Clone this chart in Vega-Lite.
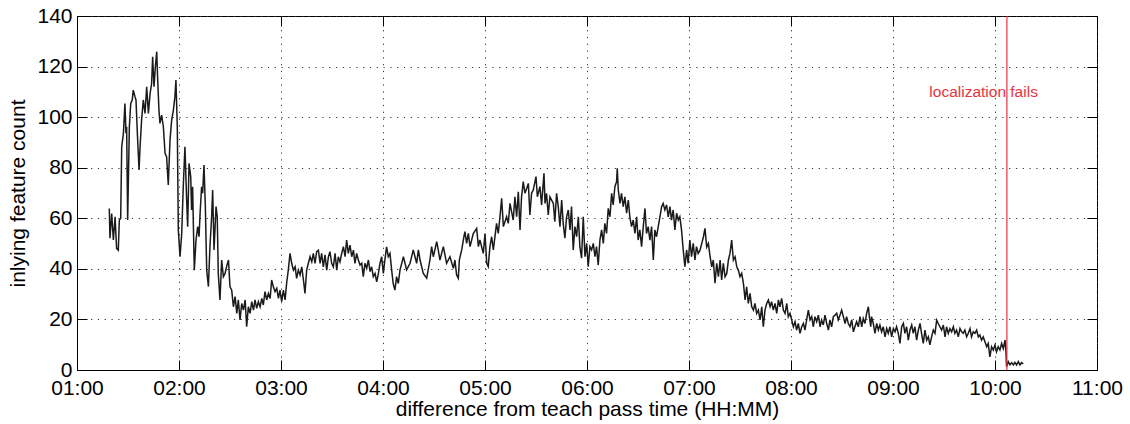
{
  "$schema": "https://vega.github.io/schema/vega-lite/v6.json",
  "width": 1020,
  "height": 354,
  "autosize": {"type": "none"},
  "padding": {"left": 77, "top": 16, "right": 33, "bottom": 54},
  "background": "white",
  "config": {"view": {"stroke": "black", "strokeWidth": 1}, "font": "Liberation Sans"},
  "resolve": {"axis": {"x": "independent", "y": "independent"}},
  "layer": [
    {
      "data": {"values": [
        {"t":79.0,"v":63.9},{"t":79.4,"v":52.1},{"t":80.4,"v":61.9},{"t":81.4,"v":51.4},{"t":82.4,"v":60.6},{"t":83.3,"v":48.1},{"t":84.3,"v":47.4},{"t":84.9,"v":59.3},{"t":85.7,"v":60.0},{"t":86.3,"v":88.3},{"t":87.3,"v":93.6},{"t":88.2,"v":105.4},{"t":88.8,"v":93.6},{"t":89.2,"v":96.2},{"t":89.8,"v":59.3},{"t":90.8,"v":96.2},{"t":91.6,"v":105.4},{"t":92.5,"v":106.8},{"t":93.1,"v":110.7},{"t":94.1,"v":108.1},{"t":94.7,"v":106.8},{"t":95.5,"v":93.6},{"t":96.5,"v":79.1},{"t":97.1,"v":88.3},{"t":98.0,"v":98.9},{"t":99.0,"v":106.8},{"t":100.0,"v":101.5},{"t":101.0,"v":112.0},{"t":102.0,"v":101.5},{"t":103.0,"v":109.4},{"t":103.9,"v":113.3},{"t":104.5,"v":123.9},{"t":105.3,"v":112.0},{"t":106.1,"v":119.9},{"t":106.9,"v":125.9},{"t":107.4,"v":116.0},{"t":108.2,"v":102.8},{"t":108.8,"v":97.5},{"t":109.8,"v":100.8},{"t":110.8,"v":96.2},{"t":111.8,"v":85.7},{"t":112.7,"v":84.4},{"t":113.7,"v":73.2},{"t":114.7,"v":90.9},{"t":115.7,"v":98.9},{"t":116.7,"v":102.8},{"t":117.6,"v":108.1},{"t":118.2,"v":114.7},{"t":119.0,"v":96.2},{"t":119.6,"v":55.4},{"t":120.6,"v":44.8},{"t":121.6,"v":54.0},{"t":122.5,"v":72.5},{"t":123.5,"v":88.3},{"t":124.5,"v":67.2},{"t":125.1,"v":56.7},{"t":125.9,"v":81.7},{"t":126.9,"v":76.4},{"t":127.4,"v":63.3},{"t":128.0,"v":72.5},{"t":129.0,"v":39.5},{"t":130.0,"v":51.4},{"t":131.0,"v":56.7},{"t":131.8,"v":52.7},{"t":132.4,"v":61.9},{"t":133.3,"v":72.5},{"t":133.9,"v":69.9},{"t":134.7,"v":81.1},{"t":135.5,"v":64.6},{"t":136.3,"v":39.5},{"t":137.3,"v":33.0},{"t":138.2,"v":48.8},{"t":139.2,"v":60.6},{"t":139.8,"v":71.2},{"t":140.6,"v":47.5},{"t":141.8,"v":64.6},{"t":142.5,"v":60.6},{"t":143.1,"v":38.2},{"t":144.1,"v":27.7},{"t":145.1,"v":43.5},{"t":146.1,"v":36.9},{"t":147.1,"v":38.2},{"t":148.0,"v":40.9},
        {"t":149.1,"v":43.5},{"t":150.0,"v":32.9},{"t":151.0,"v":31.6},{"t":152.0,"v":25.0},{"t":153.0,"v":29.0},{"t":154.0,"v":22.4},{"t":154.9,"v":27.7},{"t":155.9,"v":19.8},{"t":156.9,"v":26.3},{"t":157.9,"v":23.7},{"t":158.9,"v":27.7},{"t":159.8,"v":17.1},{"t":160.8,"v":25.0},{"t":161.8,"v":22.4},{"t":162.8,"v":27.0},{"t":163.8,"v":23.7},{"t":164.7,"v":27.7},{"t":165.7,"v":24.4},{"t":166.7,"v":27.0},{"t":167.7,"v":25.0},{"t":168.7,"v":28.3},{"t":169.6,"v":25.7},{"t":170.6,"v":31.0},{"t":171.6,"v":27.7},{"t":172.6,"v":30.3},{"t":173.6,"v":28.3},{"t":174.5,"v":35.6},{"t":175.5,"v":32.9},{"t":176.5,"v":31.0},{"t":177.5,"v":32.3},{"t":178.5,"v":28.3},{"t":179.4,"v":31.6},{"t":180.4,"v":27.0},{"t":181.4,"v":31.6},{"t":182.4,"v":27.7},{"t":183.4,"v":34.9},{"t":184.3,"v":39.5},{"t":185.3,"v":46.1},{"t":186.3,"v":42.2},{"t":187.3,"v":39.5},{"t":188.3,"v":40.8},{"t":189.2,"v":36.2},{"t":190.2,"v":39.5},{"t":191.2,"v":37.6},{"t":192.2,"v":40.8},{"t":193.2,"v":35.6},{"t":194.1,"v":30.3},{"t":195.1,"v":39.5},{"t":196.1,"v":42.2},{"t":197.1,"v":44.8},{"t":198.1,"v":42.8},{"t":199.0,"v":46.1},{"t":200.0,"v":42.2},{"t":201.0,"v":46.8},{"t":202.0,"v":47.4},{"t":203.0,"v":42.2},{"t":203.9,"v":46.1},{"t":204.9,"v":40.8},{"t":205.9,"v":45.5},{"t":206.9,"v":39.5},{"t":207.9,"v":44.8},{"t":208.8,"v":46.8},{"t":209.8,"v":42.2},{"t":210.8,"v":40.8},{"t":211.8,"v":46.1},{"t":212.8,"v":39.5},{"t":213.7,"v":44.8},{"t":214.7,"v":42.8},{"t":215.7,"v":46.1},{"t":216.7,"v":48.8},{"t":217.7,"v":44.8},{"t":218.6,"v":51.4},{"t":219.6,"v":46.1},{"t":220.6,"v":49.4},{"t":221.6,"v":44.8},{"t":222.6,"v":47.4},{"t":223.5,"v":42.2},{"t":224.5,"v":46.1},{"t":225.5,"v":43.5},{"t":226.5,"v":41.5},{"t":227.5,"v":42.2},{"t":228.4,"v":36.9},{"t":229.4,"v":42.2},{"t":230.4,"v":40.2},{"t":231.4,"v":43.5},{"t":232.4,"v":38.9},{"t":233.3,"v":40.8},{"t":234.3,"v":36.9},{"t":235.3,"v":38.2},{"t":236.3,"v":34.9},{"t":237.3,"v":38.2},
        {"t":238.2,"v":42.1},{"t":239.2,"v":44.8},{"t":240.2,"v":38.2},{"t":241.1,"v":43.5},{"t":242.1,"v":48.7},{"t":243.1,"v":44.8},{"t":244.1,"v":46.1},{"t":245.1,"v":39.5},{"t":246.0,"v":34.2},{"t":247.0,"v":31.6},{"t":248.0,"v":36.9},{"t":249.0,"v":34.2},{"t":250.0,"v":39.5},
        {"t":252.0,"v":44.8},{"t":253.9,"v":39.6},{"t":255.9,"v":42.2},{"t":257.8,"v":47.5},{"t":259.8,"v":42.2},{"t":260.8,"v":47.5},{"t":261.8,"v":43.5},{"t":263.7,"v":38.2},{"t":265.7,"v":36.3},{"t":267.6,"v":43.5},{"t":268.6,"v":48.8},{"t":269.6,"v":44.8},{"t":271.6,"v":50.8},{"t":272.5,"v":47.5},{"t":273.5,"v":43.5},{"t":275.5,"v":48.8},{"t":277.4,"v":42.2},{"t":279.4,"v":44.8},{"t":281.4,"v":40.2},{"t":282.3,"v":43.5},{"t":283.3,"v":37.6},{"t":284.3,"v":36.3},{"t":284.9,"v":43.5},{"t":286.3,"v":47.5},{"t":287.6,"v":52.7},{"t":288.2,"v":54.7},{"t":289.2,"v":50.1},{"t":290.2,"v":54.0},{"t":291.2,"v":48.8},{"t":293.1,"v":54.0},{"t":295.1,"v":56.0},{"t":296.1,"v":48.8},{"t":297.0,"v":51.4},{"t":299.0,"v":46.1},{"t":300.0,"v":54.0},{"t":301.0,"v":42.2},{"t":301.9,"v":40.9},{"t":302.9,"v":48.8},{"t":303.9,"v":52.7},{"t":304.9,"v":47.5},{"t":306.8,"v":58.0},{"t":307.8,"v":54.0},{"t":308.8,"v":60.6},{"t":309.8,"v":67.9},{"t":310.8,"v":56.7},{"t":312.7,"v":60.6},{"t":313.7,"v":58.0},{"t":314.7,"v":65.9},{"t":316.6,"v":59.3},{"t":317.6,"v":68.5},{"t":318.6,"v":60.6},{"t":319.6,"v":70.5},{"t":320.6,"v":55.4},{"t":321.5,"v":68.5},{"t":322.5,"v":74.5},{"t":323.5,"v":69.9},{"t":324.5,"v":71.8},{"t":325.5,"v":73.8},{"t":326.4,"v":61.3},{"t":327.4,"v":69.9},{"t":328.4,"v":71.2},{"t":330.0,"v":76.5},{"t":330.8,"v":68.5},{"t":332.3,"v":72.5},{"t":333.3,"v":65.3},{"t":334.7,"v":77.8},{"t":335.3,"v":65.9},{"t":336.2,"v":69.9},{"t":337.2,"v":61.3},{"t":338.2,"v":68.5},{"t":340.2,"v":65.9},{"t":341.1,"v":58.7},{"t":342.1,"v":69.9},{"t":343.1,"v":64.6},{"t":344.1,"v":56.7},{"t":345.1,"v":67.2},{"t":346.0,"v":58.0},{"t":347.0,"v":52.1},{"t":348.0,"v":60.6},{"t":349.0,"v":63.3},{"t":350.0,"v":55.4},{"t":350.9,"v":64.6},{"t":351.9,"v":47.5},{"t":352.9,"v":56.7},{"t":353.9,"v":52.7},{"t":354.9,"v":60.6},{"t":355.8,"v":48.8},{"t":356.8,"v":44.2},{"t":357.8,"v":60.6},{"t":358.8,"v":44.8},{"t":359.8,"v":50.1},{"t":360.7,"v":40.9},{"t":361.7,"v":48.8},{"t":362.7,"v":47.5},{"t":363.7,"v":50.1},{"t":364.7,"v":44.8},{"t":365.6,"v":48.8},{"t":366.6,"v":41.5},{"t":367.6,"v":51.4},{"t":368.6,"v":55.4},{"t":369.6,"v":50.1},{"t":370.5,"v":58.0},{"t":371.5,"v":54.0},{"t":372.5,"v":63.9},{"t":373.5,"v":60.6},{"t":374.5,"v":69.9},{"t":375.4,"v":65.3},{"t":376.4,"v":72.5},{"t":377.4,"v":74.5},{"t":377.8,"v":79.8},{"t":378.4,"v":71.2},{"t":379.4,"v":65.9},{"t":380.3,"v":69.9},{"t":381.3,"v":64.6},{"t":382.3,"v":68.5},{"t":383.3,"v":62.0},{"t":384.3,"v":67.2},{"t":385.2,"v":60.6},{"t":386.2,"v":56.7},{"t":387.2,"v":59.3},{"t":388.2,"v":54.0},{"t":389.2,"v":60.6},{"t":390.1,"v":51.4},{"t":391.1,"v":55.4},{"t":392.1,"v":48.8},{"t":393.1,"v":56.7},{"t":394.1,"v":63.9},{"t":395.0,"v":54.0},{"t":396.0,"v":56.7},{"t":397.0,"v":51.4},{"t":398.0,"v":56.7},{"t":399.0,"v":43.5},{"t":399.9,"v":55.4},{"t":400.9,"v":52.7},{"t":401.9,"v":56.7},{"t":402.9,"v":60.6},{"t":403.9,"v":64.6},{"t":404.8,"v":65.9},{"t":405.8,"v":63.3},{"t":406.8,"v":65.3},{"t":407.8,"v":60.6},{"t":408.8,"v":64.6},{"t":409.7,"v":59.3},{"t":410.7,"v":63.3},{"t":411.7,"v":55.4},{"t":412.7,"v":62.0},{"t":413.7,"v":59.3},{"t":414.6,"v":60.6},{"t":415.6,"v":55.4},{"t":416.6,"v":47.5},{"t":417.6,"v":40.9},{"t":418.6,"v":47.5},{"t":419.5,"v":42.2},{"t":420.5,"v":51.4},{"t":421.5,"v":44.8},{"t":422.5,"v":50.1},{"t":423.5,"v":43.5},{"t":424.4,"v":48.8},{"t":425.4,"v":46.1},
        {"t":426.5,"v":47.4},{"t":427.5,"v":50.1},{"t":428.5,"v":52.7},{"t":429.4,"v":56.0},{"t":430.4,"v":48.7},{"t":431.4,"v":50.1},{"t":432.4,"v":44.8},{"t":433.4,"v":40.8},{"t":434.3,"v":43.5},{"t":435.3,"v":34.3},{"t":436.3,"v":42.2},{"t":437.3,"v":36.9},{"t":438.3,"v":43.5},{"t":439.2,"v":35.6},{"t":440.2,"v":42.2},{"t":441.2,"v":36.9},{"t":442.2,"v":38.2},{"t":443.2,"v":43.5},{"t":444.1,"v":46.1},{"t":445.1,"v":51.4},{"t":446.1,"v":43.5},{"t":447.1,"v":44.8},{"t":448.1,"v":40.8},{"t":449.0,"v":39.5},{"t":450.0,"v":36.9},{"t":451.0,"v":38.2},{"t":452.0,"v":34.3},{"t":453.0,"v":27.7},{"t":453.9,"v":32.9},{"t":454.9,"v":26.3},{"t":455.9,"v":30.3},{"t":456.9,"v":25.0},{"t":457.9,"v":23.7},{"t":458.8,"v":26.3},{"t":459.8,"v":22.4},{"t":460.8,"v":23.7},{"t":461.8,"v":19.8},{"t":462.8,"v":25.0},{"t":463.7,"v":17.1},{"t":464.7,"v":23.7},{"t":465.7,"v":26.3},{"t":466.7,"v":27.7},{"t":467.7,"v":25.0},{"t":468.6,"v":27.0},{"t":469.6,"v":23.7},{"t":470.6,"v":26.3},{"t":471.6,"v":22.4},{"t":472.6,"v":27.7},{"t":473.5,"v":25.0},{"t":474.5,"v":28.3},{"t":475.5,"v":23.7},{"t":476.5,"v":22.4},{"t":477.5,"v":26.3},{"t":478.4,"v":21.1},{"t":479.4,"v":22.4},{"t":480.4,"v":19.8},{"t":481.4,"v":17.1},{"t":482.4,"v":19.1},{"t":483.3,"v":15.8},{"t":484.3,"v":18.4},{"t":485.3,"v":14.5},{"t":486.3,"v":17.1},{"t":487.3,"v":18.4},{"t":488.2,"v":15.8},{"t":489.2,"v":19.8},{"t":490.2,"v":23.7},{"t":491.2,"v":19.8},{"t":492.2,"v":21.1},{"t":493.1,"v":17.1},{"t":494.1,"v":21.1},{"t":495.1,"v":19.1},{"t":496.1,"v":21.7},{"t":497.1,"v":17.1},{"t":498.0,"v":19.8},{"t":499.0,"v":17.8},{"t":500.0,"v":21.7},{"t":501.0,"v":18.4},{"t":502.0,"v":15.8},{"t":502.9,"v":19.8},{"t":503.9,"v":17.1},{"t":504.9,"v":21.1},{"t":505.9,"v":21.7},{"t":506.9,"v":22.4},{"t":507.8,"v":19.8},{"t":508.8,"v":21.7},{"t":509.8,"v":23.7},{"t":510.8,"v":21.1},{"t":511.8,"v":18.4},{"t":512.7,"v":21.1},{"t":513.7,"v":18.4},{"t":514.7,"v":17.1},{"t":515.7,"v":19.8},{"t":516.7,"v":15.1},{"t":517.6,"v":17.1},{"t":518.6,"v":19.1},{"t":519.6,"v":17.1},
        {"t":520.6,"v":21.1},{"t":521.6,"v":17.1},{"t":522.5,"v":20.4},{"t":523.5,"v":18.4},{"t":524.5,"v":22.4},{"t":525.5,"v":25.0},{"t":526.1,"v":21.1},{"t":526.9,"v":17.1},{"t":527.4,"v":21.1},{"t":528.4,"v":18.4},{"t":529.4,"v":14.5},{"t":530.4,"v":18.4},{"t":531.4,"v":15.8},{"t":532.3,"v":17.8},{"t":533.3,"v":15.1},{"t":534.3,"v":17.1},{"t":535.3,"v":13.1},{"t":536.3,"v":16.4},{"t":537.2,"v":14.5},{"t":538.2,"v":17.1},{"t":539.2,"v":13.1},{"t":540.2,"v":16.4},{"t":541.2,"v":15.1},{"t":542.1,"v":17.1},{"t":543.1,"v":14.5},{"t":544.1,"v":10.5},{"t":545.1,"v":17.1},{"t":546.1,"v":18.4},{"t":547.0,"v":14.5},{"t":548.0,"v":17.1},{"t":549.0,"v":11.8},{"t":550.0,"v":15.8},{"t":551.0,"v":17.8},{"t":551.9,"v":14.5},{"t":552.9,"v":17.1},{"t":553.9,"v":11.8},{"t":554.9,"v":15.8},{"t":555.9,"v":18.4},{"t":556.8,"v":14.5},{"t":557.8,"v":10.5},{"t":558.8,"v":15.8},{"t":559.8,"v":11.8},{"t":560.8,"v":13.1},{"t":561.7,"v":9.9},{"t":562.7,"v":13.1},{"t":563.7,"v":15.8},{"t":564.7,"v":14.5},{"t":565.7,"v":19.7},{"t":566.6,"v":18.4},{"t":567.6,"v":17.1},{"t":568.6,"v":15.8},{"t":569.6,"v":17.8},{"t":570.6,"v":13.1},{"t":571.5,"v":17.1},{"t":572.5,"v":14.5},{"t":573.5,"v":16.4},{"t":574.5,"v":15.1},{"t":575.5,"v":17.1},{"t":576.4,"v":14.5},{"t":577.4,"v":15.8},{"t":578.4,"v":13.1},{"t":579.4,"v":16.4},{"t":580.4,"v":15.1},{"t":581.3,"v":14.5},{"t":582.3,"v":15.8},{"t":583.3,"v":13.1},{"t":584.3,"v":14.5},{"t":585.3,"v":16.4},{"t":586.2,"v":13.1},{"t":587.2,"v":15.1},{"t":588.2,"v":14.5},{"t":589.2,"v":15.8},{"t":590.2,"v":13.1},{"t":591.1,"v":13.8},{"t":592.1,"v":11.8},{"t":593.1,"v":13.1},{"t":594.1,"v":11.2},{"t":595.1,"v":9.2},{"t":596.0,"v":10.5},{"t":597.0,"v":5.2},{"t":598.0,"v":9.2},{"t":599.0,"v":7.9},{"t":600.0,"v":9.9},{"t":600.9,"v":7.2},{"t":601.9,"v":9.2},{"t":602.9,"v":7.9},{"t":603.9,"v":10.5},{"t":604.9,"v":8.5},{"t":605.9,"v":11.8},{"t":606.4,"v":7.9},{"t":606.8,"v":1.3},{"t":607.8,"v":3.3},{"t":608.8,"v":2.0},{"t":609.8,"v":2.9},{"t":610.8,"v":2.0},{"t":611.7,"v":3.0},{"t":612.7,"v":2.0},{"t":613.7,"v":3.3},{"t":614.7,"v":2.0},{"t":615.6,"v":2.9},{"t":616.6,"v":2.4}
      ]},
      "mark": {"type": "line", "color": "#1a1a1a", "strokeWidth": 1.5},
      "encoding": {
        "x": {
          "field": "t", "type": "quantitative",
          "scale": {"domain": [60, 660], "nice": false, "zero": false},
          "axis": {
            "orient": "bottom",
            "values": [60, 120, 180, 240, 300, 360, 420, 480, 540, 600, 660],
            "labelExpr": "(datum.value < 600 ? '0' : '') + (datum.value / 60) + ':00'",
            "title": "difference from teach pass time (HH:MM)",
            "grid": true, "gridDash": [1.2, 5.6], "gridColor": "#333", "gridOpacity": 1,
            "tickSize": -10, "tickColor": "black", "domainColor": "black",
            "labelFontSize": 21, "labelColor": "black", "labelPadding": 17, "labelFlush": false, "labelFont": "Liberation Sans",
            "titleFontSize": 21, "titleFontWeight": "normal", "titleColor": "black", "titlePadding": 0, "titleFont": "Liberation Sans"
          }
        },
        "y": {
          "field": "v", "type": "quantitative",
          "scale": {"domain": [0, 140], "nice": false},
          "axis": {
            "orient": "left",
            "values": [0, 20, 40, 60, 80, 100, 120, 140],
            "title": "inlying feature count",
            "grid": true, "gridDash": [1.2, 5.6], "gridColor": "#333", "gridOpacity": 1,
            "tickSize": -10, "tickColor": "black", "domainColor": "black",
            "labelFontSize": 21, "labelColor": "black", "labelPadding": 15, "labelFont": "Liberation Sans",
            "titleFontSize": 21, "titleFontWeight": "normal", "titleColor": "black", "titlePadding": 8, "titleFont": "Liberation Sans"
          }
        }
      }
    },
    {
      "data": {"values": [{"t": 607}]},
      "mark": {"type": "rule", "color": "#e8333f", "strokeWidth": 1.2},
      "encoding": {"x": {"field": "t", "type": "quantitative", "axis": null}}
    },
    {
      "data": {"values": [{"t": 593.3, "v": 107.8, "label": "localization fails"}]},
      "mark": {"type": "text", "color": "#e8333f", "fontSize": 15.5, "align": "center", "baseline": "alphabetic", "font": "Liberation Sans"},
      "encoding": {
        "x": {"field": "t", "type": "quantitative",
          "axis": {"orient": "top", "values": [60, 120, 180, 240, 300, 360, 420, 480, 540, 600, 660], "labels": false, "grid": false, "domain": false, "tickSize": -10, "tickColor": "black", "title": null}},
        "y": {"field": "v", "type": "quantitative",
          "axis": {"orient": "right", "values": [0, 20, 40, 60, 80, 100, 120, 140], "labels": false, "grid": false, "domain": false, "tickSize": -10, "tickColor": "black", "title": null}},
        "text": {"field": "label"}
      }
    }
  ]
}
